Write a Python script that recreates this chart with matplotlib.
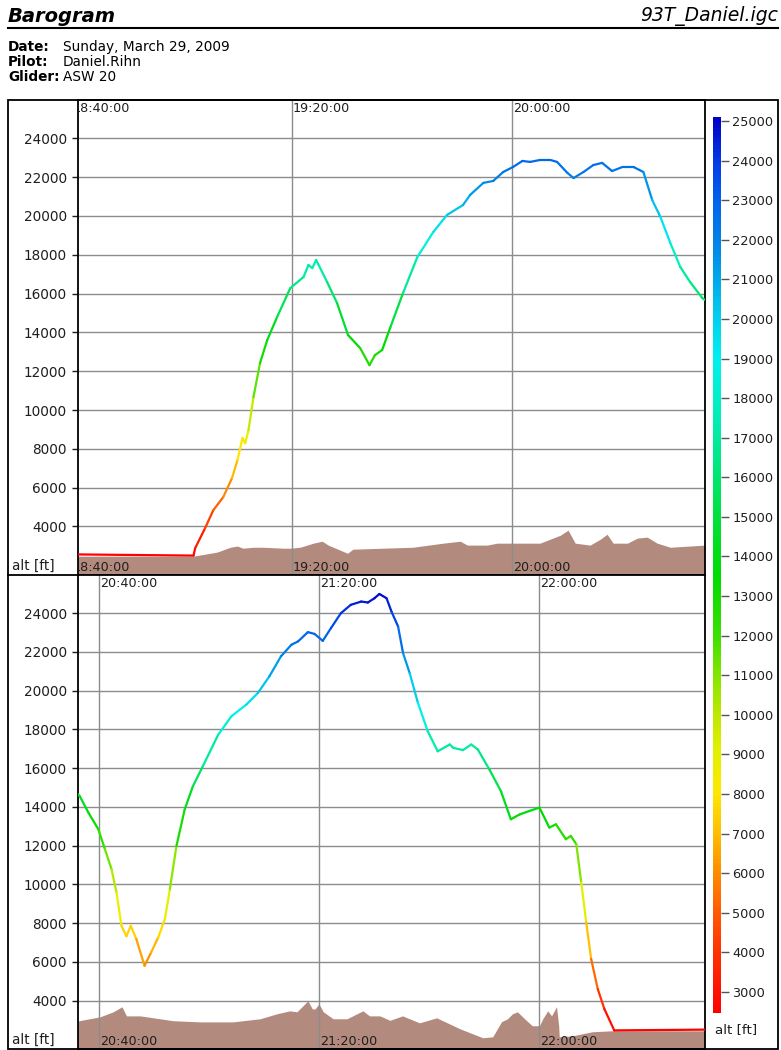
import numpy as np
import matplotlib
matplotlib.use("Agg")
import matplotlib.pyplot as plt
from matplotlib.collections import LineCollection
from matplotlib.colors import LinearSegmentedColormap, Normalize
from matplotlib.cm import ScalarMappable
from matplotlib.lines import Line2D
from matplotlib.patches import Rectangle
from matplotlib import transforms

# times are minutes after 18:00, altitudes in ft
top_time = [41.1, 62.1, 62.4, 64.2, 65.7, 67.5, 69.1, 70.1, 71.0, 71.5, 72.1, 73.0,
            74.2, 75.5, 77.3, 79.7, 82.1, 83.0, 83.7, 84.4, 86.4, 88.2, 90.2, 92.4,
            94.1, 95.1, 96.4, 97.9, 100.2, 102.8, 105.7, 108.2, 111.1, 112.4, 114.8,
            116.6, 118.4, 120.2, 121.9, 123.3, 125.1, 127.0, 128.2, 130.1, 131.2,
            133.0, 134.8, 136.4, 138.2, 140.1, 142.1, 143.9, 145.5, 147.0, 148.8,
            150.6, 152.4, 154.6, 155.1]
top_alt = [2560, 2500, 2880, 3910, 4840, 5510, 6490, 7420, 8550, 8290, 8960, 10660,
           12420, 13600, 14790, 16280, 16850, 17470, 17310, 17730, 16590, 15510, 13860,
           13190, 12310, 12830, 13090, 14270, 16030, 17880, 19170, 20050, 20560, 21080,
           21700, 21800, 22260, 22520, 22830, 22780, 22880, 22880, 22780, 22210, 21950,
           22260, 22620, 22730, 22310, 22520, 22520, 22260, 20820, 19940, 18600, 17370,
           16590, 15770, 15670]

bot_time = [156.2, 156.5, 158.1, 159.9, 161.1, 162.3, 163.2, 164.1, 165.0, 165.8, 166.8,
            168.3, 169.5, 170.8, 172.0, 172.9, 174.1, 175.6, 177.1, 178.9, 181.7, 184.1,
            186.8, 188.9, 191.0, 193.1, 195.0, 196.2, 198.0, 199.2, 200.7, 202.2, 204.0,
            205.8, 207.7, 208.9, 210.1, 211.0, 212.3, 213.2, 214.4, 215.3, 216.5, 218.0,
            219.8, 221.6, 223.8, 224.4, 226.2, 227.7, 228.9, 231.0, 233.1, 234.9, 236.5,
            238.3, 240.1, 241.9, 243.1, 244.9, 245.8, 246.8, 247.7, 248.6, 249.5, 250.7,
            251.9, 253.7, 270.2]
bot_alt = [14650, 14560, 13700, 12840, 11810, 10780, 9580, 7860, 7320, 7860, 7180,
           5800, 6490, 7270, 8210, 9750, 11980, 13870, 15070, 16100, 17730, 18680,
           19280, 19880, 20740, 21770, 22370, 22540, 23020, 22930, 22570, 23230, 24000,
           24430, 24600, 24550, 24770, 24990, 24770, 24080, 23310, 21940, 20910, 19370,
           17900, 16870, 17220, 17050, 16930, 17220, 16960, 15930, 14810, 13360, 13610,
           13790, 13960, 12930, 13100, 12330, 12500, 12070, 10100, 8040, 6150, 4600,
           3570, 2460, 2500]

# ground elevation under the track
top_gnd_time = [41.1, 62.1, 66.4, 68.8, 70.1, 71.1, 73.0, 74.8, 78.4, 79.7, 81.5, 83.9,
                85.5, 86.6, 90.1, 91.1, 102.0, 107.5, 110.6, 111.9, 115.5, 117.3, 120.2,
                125.1, 127.0, 128.8, 130.2, 131.5, 134.2, 136.1, 137.3, 138.4, 141.0,
                142.8, 144.6, 146.4, 148.8, 155.1]
top_gnd_alt = [2470, 2470, 2680, 2930, 2990, 2880, 2930, 2930, 2880, 2880, 2930, 3140,
               3240, 3040, 2620, 2830, 2930, 3140, 3240, 3040, 3040, 3140, 3140, 3140,
               3350, 3550, 3810, 3140, 3040, 3350, 3600, 3140, 3140, 3400, 3450, 3140,
               2930, 3040]
bot_gnd_time = [156.2, 156.6, 160.2, 162.6, 164.2, 165.0, 167.5, 169.9, 173.5, 178.4,
                184.4, 189.3, 192.4, 194.7, 196.0, 197.1, 198.0, 198.8, 199.3, 200.0,
                200.8, 202.6, 205.1, 208.0, 209.2, 211.1, 212.9, 215.2, 218.3, 221.4,
                225.6, 229.8, 231.6, 233.2, 234.3, 235.2, 236.1, 237.4, 238.8, 240.1,
                240.7, 241.6, 242.3, 243.2, 243.6, 243.7, 246.1, 249.7, 253.3, 270.2]
bot_gnd_alt = [2950, 2970, 3160, 3420, 3680, 3210, 3210, 3110, 2960, 2900, 2900, 3060,
               3320, 3470, 3420, 3730, 3990, 3570, 3570, 3830, 3420, 3060, 3060, 3470,
               3210, 3210, 2980, 3210, 2850, 3110, 2550, 2080, 2130, 2910, 3060, 3320,
               3420, 3060, 2700, 2700, 3060, 3470, 3210, 3680, 2700, 2130, 2180, 2390,
               2440, 2440]

top_ticks = [40, 80, 120]
top_labels = ["18:40:00", "19:20:00", "20:00:00"]
bot_ticks = [160, 200, 240]
bot_labels = ["20:40:00", "21:20:00", "22:00:00"]

alt_stops = [2470, 4000, 5000, 6000, 7000, 8000, 9000, 10000, 11000, 12000, 13500,
             15000, 16000, 17000, 18000, 19000, 20000, 21000, 22000, 23000, 24000, 25100]
stop_colors = ["#ff0000", "#ff3200", "#ff5a00", "#ff8c00", "#ffbe00", "#ffe600",
               "#e6f000", "#bee800", "#82e600", "#3ce000", "#00dc00", "#00e13c",
               "#00e66e", "#00eba0", "#00f0c8", "#00f0f0", "#00d2f0", "#00aaeb",
               "#0082e6", "#0064eb", "#003ce6", "#0000c8"]

W, H = 781, 1050
TERRAIN = "#b38a7e"
GRID = "#8c8c8c"
TXT = "#1e1e1e"


def fx(px):
    return px / W


def fy(py):
    return 1 - py / H


lo, hi = alt_stops[0], alt_stops[-1]
cmap = LinearSegmentedColormap.from_list(
    "alt", [((v - lo) / (hi - lo), c) for v, c in zip(alt_stops, stop_colors)])
norm = Normalize(lo, hi)

fig = plt.figure(figsize=(W / 100, H / 100), dpi=100)


def panel(top_px, bot_px, t, alt, gt, galt, ticks, labels, xlim):
    ax = fig.add_axes([fx(78), fy(bot_px), fx(705) - fx(78), (bot_px - top_px) / H])
    ax.set_xlim(xlim)
    ax.set_ylim(1500, 25970)
    ax.fill_between(gt, 0, galt, color=TERRAIN, lw=0, zorder=1)
    for y in range(4000, 24001, 2000):
        ax.axhline(y, color=GRID, lw=1, zorder=2)
    for tk in ticks:
        ax.axvline(tk, color=GRID, lw=1, zorder=2)

    t = np.asarray(t)
    alt = np.asarray(alt)
    pts = np.column_stack([t, alt])
    segs = np.stack([pts[:-1], pts[1:]], axis=1)
    lc = LineCollection(segs, cmap=cmap, norm=norm, linewidths=1.6,
                        capstyle="round", joinstyle="round", zorder=3)
    lc.set_array((alt[:-1] + alt[1:]) / 2)
    ax.add_collection(lc)

    # time labels inside the plot, at top and bottom of each gridline
    tr = transforms.blended_transform_factory(ax.transData, ax.transAxes)
    for tk, lab in zip(ticks, labels):
        ax.text(tk, 1, lab, fontsize=9.2, color=TXT, ha="left", va="top",
                transform=transforms.offset_copy(tr, fig=fig, x=1, y=-2, units="dots"),
                clip_on=True, zorder=4)
        ax.text(tk, 0, lab, fontsize=9.2, color=TXT, ha="left", va="bottom",
                transform=transforms.offset_copy(tr, fig=fig, x=1, y=1, units="dots"),
                clip_on=True, zorder=4)

    ax.set_xticks([])
    ax.set_yticks(range(4000, 24001, 2000))
    ax.tick_params(axis="y", length=4, width=1, pad=4, labelsize=9.8, colors=TXT)
    for s in ax.spines.values():
        s.set_linewidth(1.3)
        s.set_color("black")
    fig.text(fx(12), fy(bot_px - 9), "alt [ft]", fontsize=9.8, va="center", color=TXT)
    return ax


panel(100, 575, top_time, top_alt, top_gnd_time, top_gnd_alt,
      top_ticks, top_labels, (41.1, 155.1))
panel(575, 1049, bot_time, bot_alt, bot_gnd_time, bot_gnd_alt,
      bot_ticks, bot_labels, (156.2, 270.2))

# colour scale on the right
cax = fig.add_axes([fx(713), fy(1013), fx(721) - fx(713), (1013 - 117) / H])
cb = fig.colorbar(ScalarMappable(norm=norm, cmap=cmap), cax=cax)
cb.outline.set_visible(False)
cb.set_ticks(range(3000, 25001, 1000))
cax.tick_params(axis="y", length=6, width=1, color="#555555", pad=2,
                labelsize=9.3, labelcolor=TXT)
fig.text(fx(715), fy(1030), "alt [ft]", fontsize=9.6, va="center", color=TXT)

# frame around everything
fig.add_artist(Rectangle((fx(8), fy(1049)), fx(778) - fx(8), (1049 - 100) / H,
                         transform=fig.transFigure, fill=False, lw=1.3, ec="black"))
fig.add_artist(Line2D([fx(8), fx(78)], [fy(575), fy(575)], transform=fig.transFigure,
                      lw=1.3, color="black"))

# header
fig.text(fx(8), fy(17), "Barogram", fontsize=14, fontweight="bold",
         fontstyle="italic", va="center")
fig.text(fx(778), fy(16), "93T_Daniel.igc", fontsize=13.5, fontstyle="italic",
         va="center", ha="right")
fig.add_artist(Line2D([fx(8), fx(778)], [fy(28), fy(28)], transform=fig.transFigure,
                      lw=1.5, color="black"))

info = [("Date:", "Sunday, March 29, 2009"), ("Pilot:", "Daniel.Rihn"), ("Glider:", "ASW 20")]
for i, (k, v) in enumerate(info):
    y = fy(47 + 15 * i)
    fig.text(fx(8), y, k, fontsize=9.8, fontweight="bold", va="center")
    fig.text(fx(63), y, v, fontsize=9.8, va="center")

fig.savefig("out.png", dpi=100)
